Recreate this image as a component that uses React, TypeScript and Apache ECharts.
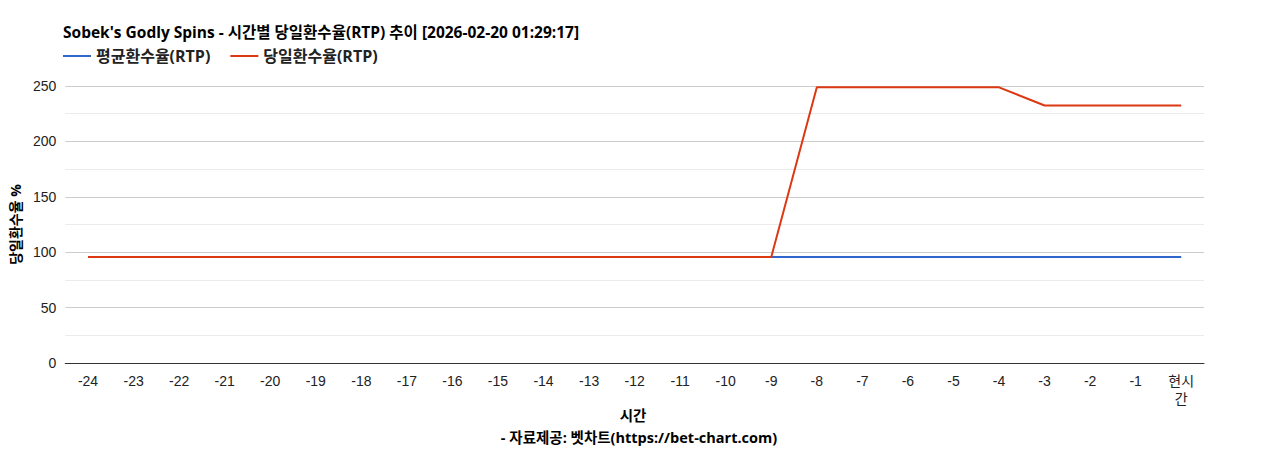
import React, { useEffect, useRef } from "react";
import * as echarts from "echarts";

const hours = [
    "-24", "-23", "-22", "-21", "-20", "-19", "-18", "-17", "-16", "-15", "-14", "-13",
    "-12", "-11", "-10", "-9", "-8", "-7", "-6", "-5", "-4", "-3", "-2", "-1", "현시간",
];
const avgRtp = [
    95.7, 95.7, 95.7, 95.7, 95.7, 95.7, 95.7, 95.7, 95.7, 95.7, 95.7, 95.7,
    95.7, 95.7, 95.7, 95.7, 95.7, 95.7, 95.7, 95.7, 95.7, 95.7, 95.7, 95.7, 95.7,
];
const dayRtp = [
    95.7, 95.7, 95.7, 95.7, 95.7, 95.7, 95.7, 95.7, 95.7, 95.7, 95.7, 95.7,
    95.7, 95.7, 95.7, 95.7, 248.8, 248.8, 248.8, 248.8, 248.8, 232.4, 232.4, 232.4, 232.4,
];

const TITLE = "Sobek's Godly Spins - 시간별 당일환수율(RTP) 추이 [2026-02-20 01:29:17]";
const FONT = "Arial, 'Liberation Sans', 'Noto Sans CJK KR', sans-serif";
const BOLD_FONT = "'Open Sans', 'Noto Sans CJK KR', sans-serif";

const App: React.FC = () => {
    const ref = useRef<HTMLDivElement | null>(null);

    useEffect(() => {
        if (!ref.current) return;
        document.body.style.margin = "0";
        const inst = echarts.init(ref.current, undefined, { renderer: "svg" });

        inst.setOption({
            animation: false,
            backgroundColor: "#fff",
            textStyle: { fontFamily: FONT },
            title: {
                text: TITLE,
                left: 58,
                top: 19,
                textStyle: { fontSize: 15.5, fontWeight: "bold", color: "#000", fontFamily: BOLD_FONT },
            },
            legend: {
                left: 58,
                top: 43,
                itemWidth: 28,
                itemHeight: 2,
                itemGap: 20,
                icon: "rect",
                textStyle: { fontSize: 16, fontWeight: "bold", color: "#222", fontFamily: BOLD_FONT },
                data: ["평균환수율(RTP)", "당일환수율(RTP)"],
            },
            grid: { left: 63, right: 64, top: 86, bottom: 87, containLabel: false },
            xAxis: {
                type: "category",
                data: hours,
                boundaryGap: true,
                axisLine: { lineStyle: { color: "#333", width: 1 } },
                axisTick: { show: false },
                axisLabel: {
                    color: "#222",
                    fontSize: 14,
                    margin: 9,
                    lineHeight: 18,
                    interval: 0,
                    formatter: (v: string) => (v === "현시간" ? "현시\n간" : v),
                },
            },
            yAxis: {
                type: "value",
                min: 0,
                max: 250,
                interval: 50,
                name: "당일환수율 %",
                nameLocation: "middle",
                nameRotate: 90,
                nameGap: 21,
                nameTextStyle: { fontSize: 14, fontWeight: "bold", color: "#000", fontFamily: BOLD_FONT },
                axisLine: { show: false },
                axisTick: { show: false },
                axisLabel: { color: "#222", fontSize: 14, margin: 9 },
                splitLine: { lineStyle: { color: "#cccccc", width: 1 } },
                minorTick: { show: false, splitNumber: 2 },
                minorSplitLine: { show: true, lineStyle: { color: "#ebebeb", width: 1 } },
            },
            graphic: [
                {
                    type: "text",
                    x: 633,
                    y: 415,
                    style: {
                        text: "시간",
                        fontSize: 14.5,
                        fontWeight: "bold",
                        fill: "#000",
                        fontFamily: BOLD_FONT,
                        align: "center",
                        verticalAlign: "middle",
                    },
                },
                {
                    type: "text",
                    x: 639,
                    y: 437,
                    style: {
                        text: "- 자료제공: 벳차트(https://bet-chart.com)",
                        fontSize: 14.5,
                        fontWeight: "bold",
                        fill: "#000",
                        fontFamily: BOLD_FONT,
                        align: "center",
                        verticalAlign: "middle",
                    },
                },
            ],
            series: [
                {
                    name: "평균환수율(RTP)",
                    type: "line",
                    data: avgRtp,
                    showSymbol: false,
                    lineStyle: { color: "#3366cc", width: 2 },
                    itemStyle: { color: "#3366cc" },
                },
                {
                    name: "당일환수율(RTP)",
                    type: "line",
                    data: dayRtp,
                    showSymbol: false,
                    lineStyle: { color: "#dc3912", width: 2 },
                    itemStyle: { color: "#dc3912" },
                },
            ],
        });

        return () => inst.dispose();
    }, []);

    return <div ref={ref} style={{ width: 1268, height: 450 }} />;
};

export default App;
